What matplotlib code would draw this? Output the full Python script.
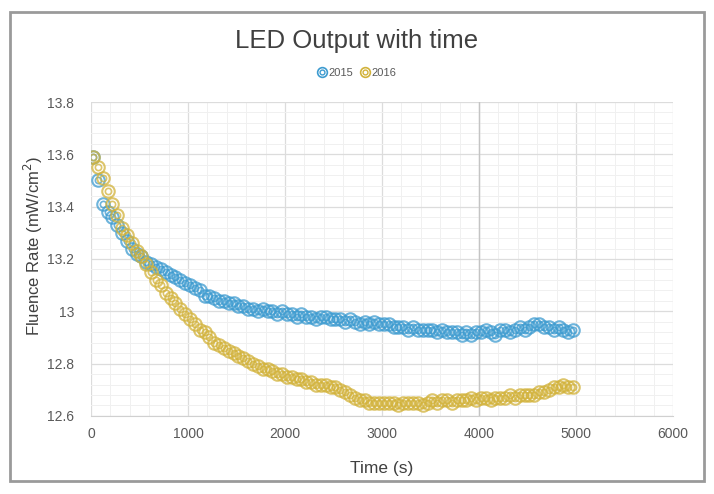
import numpy as np
import matplotlib.pyplot as plt
from matplotlib.ticker import MultipleLocator
from matplotlib.lines import Line2D
from matplotlib.legend_handler import HandlerTuple

plt.rcParams['font.family'] = ['Liberation Sans', 'DejaVu Sans']

# tiempos de muestreo (s)
time_s = np.arange(20, 5000, 50)

# 2015
fluence_2015 = [
    13.59, 13.50, 13.41, 13.38, 13.36, 13.33, 13.30, 13.27, 13.24, 13.22,
    13.21, 13.19, 13.18, 13.17, 13.16, 13.15, 13.14, 13.13, 13.12, 13.11,
    13.10, 13.09, 13.08, 13.06, 13.06, 13.05, 13.04, 13.04, 13.03, 13.03,
    13.02, 13.02, 13.01, 13.01, 13.00, 13.01, 13.00, 13.00, 12.99, 13.00,
    12.99, 12.99, 12.98, 12.99, 12.98, 12.98, 12.97, 12.98, 12.98, 12.97,
    12.97, 12.97, 12.96, 12.97, 12.96, 12.95, 12.96, 12.95, 12.96, 12.95,
    12.95, 12.95, 12.94, 12.94, 12.94, 12.93, 12.94, 12.93, 12.93, 12.93,
    12.93, 12.92, 12.93, 12.92, 12.92, 12.92, 12.91, 12.92, 12.91, 12.92,
    12.92, 12.93, 12.92, 12.91, 12.93, 12.93, 12.92, 12.93, 12.94, 12.93,
    12.94, 12.95, 12.95, 12.94, 12.94, 12.93, 12.94, 12.93, 12.92, 12.93,
]

# 2016
fluence_2016 = [
    13.59, 13.55, 13.51, 13.46, 13.41, 13.37, 13.32, 13.29, 13.26, 13.23,
    13.21, 13.18, 13.15, 13.12, 13.10, 13.07, 13.05, 13.03, 13.01, 12.99,
    12.97, 12.95, 12.93, 12.92, 12.90, 12.88, 12.87, 12.86, 12.85, 12.84,
    12.83, 12.82, 12.81, 12.80, 12.79, 12.78, 12.78, 12.77, 12.76, 12.76,
    12.75, 12.75, 12.74, 12.74, 12.73, 12.73, 12.72, 12.72, 12.72, 12.71,
    12.71, 12.70, 12.69, 12.68, 12.67, 12.66, 12.66, 12.65, 12.65, 12.65,
    12.65, 12.65, 12.65, 12.64, 12.65, 12.65, 12.65, 12.65, 12.64, 12.65,
    12.66, 12.65, 12.66, 12.66, 12.65, 12.66, 12.66, 12.66, 12.67, 12.66,
    12.67, 12.67, 12.66, 12.67, 12.67, 12.67, 12.68, 12.67, 12.68, 12.68,
    12.68, 12.68, 12.69, 12.69, 12.70, 12.71, 12.71, 12.72, 12.71, 12.71,
]

series = [('2015', fluence_2015, '#3d9bd0'), ('2016', fluence_2016, '#d2b23a')]

fig = plt.figure(figsize=(7.14, 4.94), dpi=100)
ax = fig.add_axes([0.1275, 0.158, 0.815, 0.6355])

# marco gris alrededor del grafico
fig.patches.append(plt.Rectangle((0.014, 0.027), 0.972, 0.948, transform=fig.transFigure,
                                 fill=False, edgecolor='#9a9a9a', linewidth=2.0))

handles = []
for label, vals, col in series:
    ax.plot(time_s, vals, 'o', ms=9.0, mfc='none', mec=col, mew=1.5, alpha=0.75, zorder=3)
    ax.plot(time_s, vals, 'o', ms=4.5, mfc='none', mec=col, mew=1.2, alpha=0.75, zorder=3)
    h = (Line2D([], [], marker='o', ls='none', ms=7, mfc='none', mec=col, mew=1.2),
         Line2D([], [], marker='o', ls='none', ms=3.5, mfc='none', mec=col, mew=1.0))
    handles.append(h)

ax.set_xlim(0, 6000)
ax.set_ylim(12.6, 13.8)
ax.xaxis.set_major_locator(MultipleLocator(1000))
ax.xaxis.set_minor_locator(MultipleLocator(200))
ax.yaxis.set_minor_locator(MultipleLocator(0.04))
ax.set_yticks([12.6, 12.8, 13.0, 13.2, 13.4, 13.6, 13.8])
ax.set_yticklabels(['12.6', '12.8', '13', '13.2', '13.4', '13.6', '13.8'])

ax.grid(which='major', color='#dcdcdc', linewidth=0.9)
ax.grid(which='minor', color='#f0f0f0', linewidth=0.7)
ax.axvline(4000, color='#c4c4c4', linewidth=1.0, zorder=1)
ax.set_axisbelow(True)
for s in ['top', 'right', 'left']:
    ax.spines[s].set_visible(False)
ax.spines['bottom'].set_color('#d0d0d0')
ax.tick_params(which='both', length=0, labelsize=10, colors='#595959')
ax.tick_params(axis='x', pad=8)
ax.tick_params(axis='y', pad=12)

ax.set_xlabel('Time (s)', fontsize=12.5, color='#404040')
ax.set_ylabel('Fluence Rate (mW/cm$^2$)', fontsize=12, color='#404040')
ax.xaxis.set_label_coords(0.5, -0.145)
ax.yaxis.set_label_coords(-0.079, 0.54)
fig.text(0.5, 0.918, 'LED Output with time', ha='center', va='center', fontsize=18.5, color='#404040')

fig.legend(handles, ['2015', '2016'], loc='center', bbox_to_anchor=(0.5, 0.853), ncol=2,
           frameon=False, fontsize=8, handlelength=0.8, handletextpad=0.2, columnspacing=0.6,
           handler_map={tuple: HandlerTuple(ndivide=1)}, labelcolor='#595959')

fig.savefig('out.png', dpi=100)
